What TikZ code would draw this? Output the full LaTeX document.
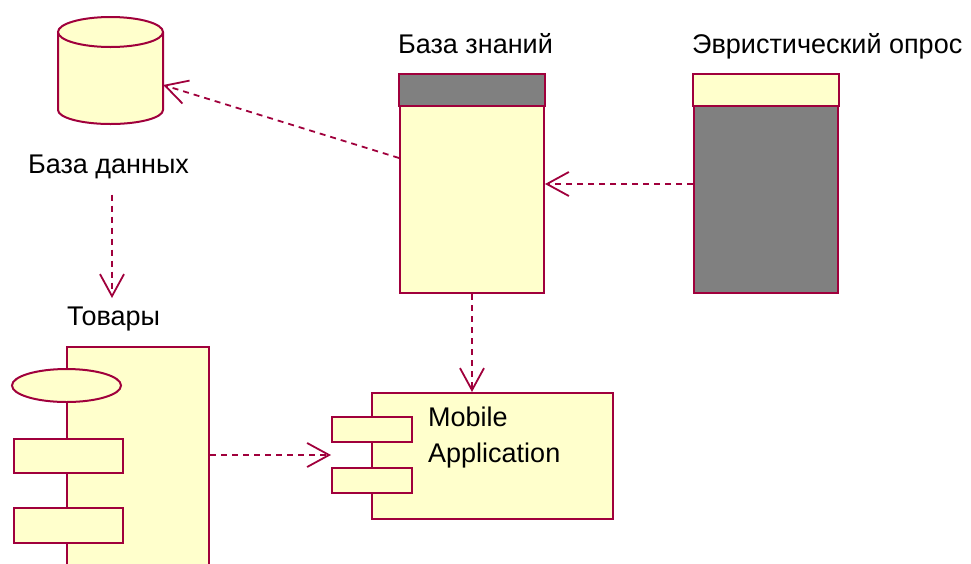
\documentclass[tikz,border=0pt]{standalone}
\usepackage{fontspec}
\setmainfont{Liberation Sans}
\usetikzlibrary{arrows.meta,shapes.geometric,calc}

\definecolor{umlline}{RGB}{160,0,60}
\definecolor{umlfill}{RGB}{255,255,204}
\definecolor{umlgray}{RGB}{128,128,128}

\tikzset{
  box/.style={draw=umlline, fill=umlfill, line width=2pt, inner sep=0pt, rectangle},
  label/.style={inner sep=0pt, anchor=base west, text=black,
                font=\fontsize{27}{36}\selectfont},
  depend/.style={draw=umlline, line width=1.8pt, dash pattern=on 6pt off 5pt,
                 -{Straight Barb[length=22pt,width=24pt,line width=1.8pt]}},
}

\begin{document}
\begin{tikzpicture}[x=1pt,y=-1pt]
\useasboundingbox (0,0) rectangle (971,563);
\clip (0,0) rectangle (971,563);

% database (cylinder)
\filldraw[draw=umlline, fill=umlfill, line width=2pt]
  (58,32) -- (58,110)
  .. controls (58,117.7) and (81.5,124) .. (110.5,124)
  .. controls (139.5,124) and (163,117.7) .. (163,110)
  -- (163,32);
\filldraw[draw=umlline, fill=umlfill, line width=2pt]
  (110.5,32) ellipse [x radius=52.5, y radius=15];
\node[inner sep=0pt, minimum width=105pt, minimum height=107pt] (db) at (110.5,70.5) {};
\node[label] (dblab) at (28,173) {База данных};

% knowledge base
\node[box, minimum width=144pt, minimum height=218pt] (kb) at (472,184) {};
\filldraw[draw=umlline, fill=umlgray, line width=2pt]
  (kb.north west) rectangle ([yshift=-32pt]kb.north east);
\node[label] (kblab) at (398,53) {База знаний};

% heuristic survey
\node[box, fill=umlgray, minimum width=144pt, minimum height=218pt] (heur) at (766,184) {};
\filldraw[draw=umlline, fill=umlfill, line width=2pt]
  (heur.north west) rectangle ([yshift=-32pt]heur.north east);
\node[label] (heurlab) at (692,53) {Эвристический опрос};

% goods component
\node[box, minimum width=142pt, minimum height=273pt] (goods) at (138,483.5) {};
\node[box, ellipse, minimum width=109pt, minimum height=33pt] (gell) at (66.5,385.5) {};
\node[box, minimum width=109pt, minimum height=34pt] (gr1) at (68.5,456) {};
\node[box, minimum width=109pt, minimum height=35pt] (gr2) at (68.5,525.5) {};
\node[label] (goodslab) at (67,325) {Товары};

% mobile application component
\node[box, minimum width=241pt, minimum height=126pt] (app) at (492.5,456) {};
\node[box, minimum width=80pt, minimum height=25pt] (p1) at (372,429.5) {};
\node[box, minimum width=80pt, minimum height=25pt] (p2) at (372,480.5) {};
\node[inner sep=0pt, anchor=north west, align=left, text=black,
      font=\fontsize{27}{36}\selectfont] (apptext) at (428,407) {Mobile\\Application};

% dependencies
\coordinate (dbend) at (112,298);
\coordinate (appin) at ($(p1.south west)!0.5!(p2.north west)$);
\draw[depend] ([yshift=26pt]kb.west) -- ([yshift=-14.5pt]db.east);
\draw[depend] ([yshift=-16pt]dblab.south -| dbend) -- (dbend);
\draw[depend] (heur.west) -- (kb.east);
\draw[depend] (kb.south) -- (kb.south |- app.north);
\draw[depend] (goods.east |- appin) -- (appin);
\end{tikzpicture}
\end{document}
